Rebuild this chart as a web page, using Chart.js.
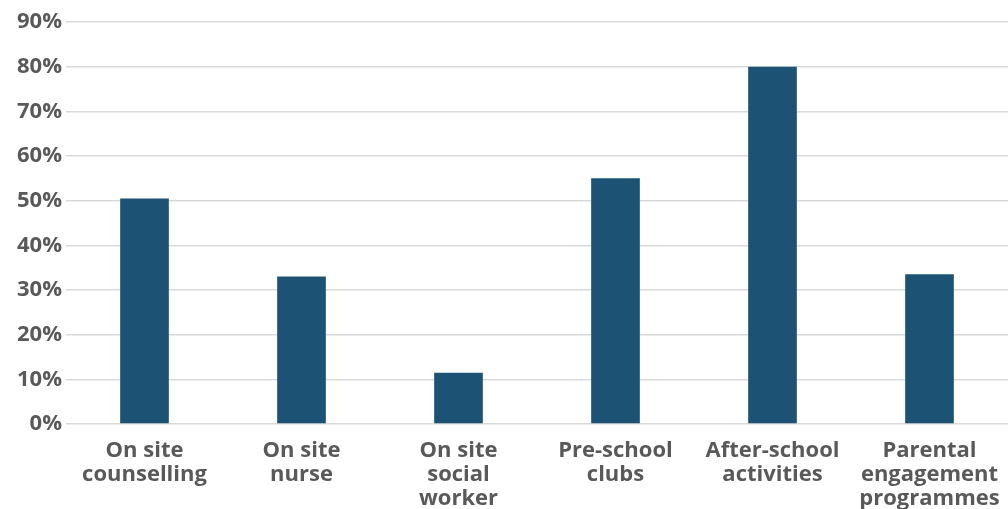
<!DOCTYPE html>
<html lang="en">
<head>
    <meta charset="UTF-8">
    <title>Support services</title>
    <script src="https://cdn.jsdelivr.net/npm/chart.js@4.4.1/dist/chart.umd.min.js"></script>
    <style>
        html, body {
            margin: 0;
            padding: 0;
            background: #ffffff;
        }
        .chart-wrapper {
            position: relative;
            width: 1008px;
            height: 509px;
        }
    </style>
</head>
<body>
    <div class="chart-wrapper">
        <canvas id="bar-chart"></canvas>
    </div>

    <script>
        // Data
        const categories = [
            ['On site', 'counselling'],
            ['On site', 'nurse'],
            ['On site', 'social', 'worker'],
            ['Pre-school', 'clubs'],
            ['After-school', 'activities'],
            ['Parental', 'engagement', 'programmes']
        ];
        const shares = [50.5, 33, 11.5, 55, 80, 33.5];
        const yTicks = [0, 10, 20, 30, 40, 50, 60, 70, 80, 90];

        const textColor = '#595959';
        const barColor = '#1c5374';
        const labelFont = { family: "'Open Sans', sans-serif", size: 22, weight: 'bold', lineHeight: 1.09 };

        const chart = new Chart(document.getElementById('bar-chart'), {
            type: 'bar',
            data: {
                labels: categories,
                datasets: [{
                    data: shares,
                    backgroundColor: barColor,
                    barPercentage: 0.31,
                    categoryPercentage: 1
                }]
            },
            options: {
                responsive: true,
                maintainAspectRatio: false,
                animation: false,
                layout: {
                    padding: { top: 22, right: 0, bottom: 0, left: 0 }
                },
                plugins: {
                    legend: { display: false },
                    tooltip: { enabled: false }
                },
                scales: {
                    x: {
                        grid: { display: false, drawTicks: false },
                        border: { display: false },
                        ticks: {
                            color: textColor,
                            font: labelFont,
                            padding: 15,
                            maxRotation: 0,
                            autoSkip: false
                        },
                        afterFit: (scale) => {
                            scale.height = 85;
                            // let the last label run to the edge, like the original
                            scale.paddingLeft = 0;
                            scale.paddingRight = 0;
                        }
                    },
                    y: {
                        min: 0,
                        max: 90,
                        afterBuildTicks: (scale) => {
                            scale.ticks = yTicks.map(v => ({ value: v }));
                        },
                        grid: {
                            color: '#d9d9d9',
                            lineWidth: 1.5,
                            drawTicks: false
                        },
                        border: { display: false },
                        ticks: {
                            color: textColor,
                            font: labelFont,
                            padding: 4,
                            callback: (v) => v + '%'
                        },
                        afterFit: (scale) => { scale.width = 66; }
                    }
                }
            }
        });
    </script>
</body>
</html>
